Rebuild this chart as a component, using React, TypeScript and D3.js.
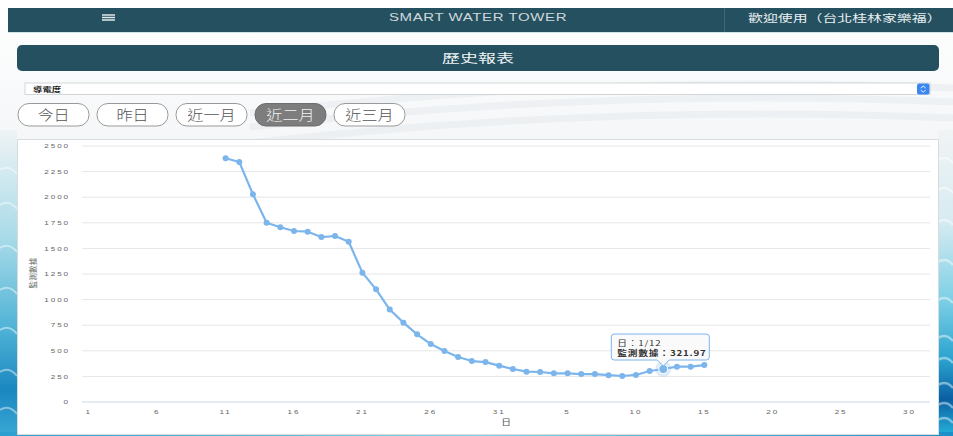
import React from 'react';
import * as d3 from 'd3';

// 類別：12/1 ~ 1/31
const decDays = ['12/1', '12/2', '12/3', '12/4', '12/5', '12/6', '12/7', '12/8', '12/9', '12/10',
    '12/11', '12/12', '12/13', '12/14', '12/15', '12/16', '12/17', '12/18', '12/19', '12/20',
    '12/21', '12/22', '12/23', '12/24', '12/25', '12/26', '12/27', '12/28', '12/29', '12/30', '12/31'];
const janDays = ['1/1', '1/2', '1/3', '1/4', '1/5', '1/6', '1/7', '1/8', '1/9', '1/10',
    '1/11', '1/12', '1/13', '1/14', '1/15', '1/16', '1/17', '1/18', '1/19', '1/20',
    '1/21', '1/22', '1/23', '1/24', '1/25', '1/26', '1/27', '1/28', '1/29', '1/30', '1/31'];
const categories = [...decDays, ...janDays];

// 監測數據 (導電度)
const decValues: (number | null)[] = [null, null, null, null, null, null, null, null, null, null,
    2380, 2344, 2028, 1751, 1706, 1670, 1663, 1611, 1621, 1565,
    1263, 1100, 903, 775, 661, 566, 498, 439, 400, 390, 355];
const janValues: (number | null)[] = [322, 296, 293, 280, 280, 273, 273, 262, 254, 264,
    303, 321.97, 345, 345, 361, null, null, null, null, null,
    null, null, null, null, null, null, null, null, null, null, null];
const values = [...decValues, ...janValues];

const yTicks = [0, 250, 500, 750, 1000, 1250, 1500, 1750, 2000, 2250, 2500];
const buttons = ['今日', '昨日', '近一月', '近二月', '近三月'];
const activeButton = '近二月';
const hoverCategory = '1/12';

const W = 953;
const H = 436;
const lineColor = '#7cb5ec';
const cjk = '"Noto Sans CJK TC", "Noto Sans", sans-serif';
const latin = '"Liberation Sans", Arial, sans-serif';

const ST: React.FC<any> = ({x, y, sx = 1, anchor = 'start', children, ...rest}) => (
    <text transform={`translate(${x},${y}) scale(${sx},1)`} textAnchor={anchor} {...rest}>{children}</text>
);

const App: React.FC = () => {
    const x = d3.scaleBand<string>().domain(categories).range([82, 930]).padding(0);
    const y = d3.scaleLinear().domain([0, 2500]).range([402, 146]);
    const cx = (c: string) => (x(c) || 0) + x.bandwidth() / 2;

    const pts = categories.map((c, i) => ({c, v: values[i]})).filter(d => d.v !== null) as { c: string, v: number }[];
    const line = d3.line<{ c: string, v: number }>().x(d => cx(d.c)).y(d => y(d.v));

    const hv = pts.find(d => d.c === hoverCategory)!;
    const hx = cx(hv.c);
    const hy = y(hv.v);
    const tipW = 98, tipH = 26;
    const tipX = hx - 52, tipY = hy - 35;

    return (
        <svg width={W} height={H} style={{position: 'absolute', left: 0, top: 0}}>
            <defs>
                <linearGradient id="bg" x1="0" y1="0" x2="0" y2="1">
                    <stop offset="0" stopColor="#ffffff"/>
                    <stop offset="0.3" stopColor="#f5f7f8"/>
                    <stop offset="1" stopColor="#e9eef0"/>
                </linearGradient>
                <linearGradient id="leftWater" x1="0" y1="0" x2="0" y2="1">
                    <stop offset="0" stopColor="#eef3f5"/>
                    <stop offset="0.35" stopColor="#a9dbe9"/>
                    <stop offset="0.65" stopColor="#4fb3d6"/>
                    <stop offset="0.85" stopColor="#1b87c0"/>
                    <stop offset="1" stopColor="#3aa9d6"/>
                </linearGradient>
                <linearGradient id="rightWater" x1="0" y1="0" x2="0" y2="1">
                    <stop offset="0" stopColor="#f1f4f5"/>
                    <stop offset="0.3" stopColor="#d6ebf1"/>
                    <stop offset="0.55" stopColor="#7fd0e6"/>
                    <stop offset="0.75" stopColor="#2aa3cf"/>
                    <stop offset="0.88" stopColor="#0a5fa3"/>
                    <stop offset="1" stopColor="#27b3db"/>
                </linearGradient>
                <linearGradient id="bottomWater" x1="0" y1="0" x2="1" y2="0">
                    <stop offset="0" stopColor="#2a9fd0"/>
                    <stop offset="0.5" stopColor="#7fd3ea"/>
                    <stop offset="1" stopColor="#1b8fc8"/>
                </linearGradient>
            </defs>

            {/* 背景 */}
            <rect x={0} y={0} width={W} height={H} fill="url(#bg)"/>
            <rect x={0} y={130} width={17} height={306} fill="url(#leftWater)"/>
            <rect x={938} y={130} width={15} height={306} fill="url(#rightWater)"/>
            <rect x={0} y={432} width={W} height={4} fill="url(#bottomWater)"/>
            {[170, 205, 248, 290, 330, 372, 410].map((yy, i) => (
                <path key={'l' + i} d={`M0,${yy} Q9,${yy - 6} 17,${yy + 4}`} stroke="#ffffff" strokeOpacity={0.45}
                      strokeWidth={2} fill="none"/>
            ))}
            {[160, 190, 222, 262, 300, 338, 360, 385, 405, 420].map((yy, i) => (
                <path key={'r' + i} d={`M938,${yy} Q946,${yy - 5} 953,${yy + 3}`} stroke="#ffffff"
                      strokeOpacity={0.45} strokeWidth={2.5} fill="none"/>
            ))}
            {[88, 102, 118].map((yy, i) => (
                <path key={'t' + i} d={`M250,${yy + 25} Q600,${yy - 15} 953,${yy}`} stroke="#e3e7ea"
                      strokeOpacity={0.45} strokeWidth={7} fill="none"/>
            ))}

            {/* 頁首 */}
            <rect x={8} y={8} width={945} height={24} fill="#24505f"/>
            <line x1={8} x2={953} y1={32.5} y2={32.5} stroke="#cfe1e8"/>
            {[15, 17.5, 20].map(yy => (
                <line key={yy} x1={102} x2={115} y1={yy} y2={yy} stroke="#dfe7ea" strokeWidth={1.5}/>
            ))}
            <ST x={478} y={21} sx={1.5} anchor="middle" fill="#d0d8dc" fontFamily={latin} fontSize={10}
                letterSpacing={0.4}>SMART WATER TOWER</ST>
            <line x1={724.5} x2={724.5} y1={8} y2={32} stroke="#3d6878"/>
            <ST x={748} y={22} sx={1.42} fill="#e8eef0" fontFamily={cjk} fontSize={10.5}>歡迎使用（台北桂林家樂福）</ST>

            {/* 標題列 */}
            <rect x={17} y={45} width={922} height={26} rx={5} fill="#24505f"/>
            <ST x={478} y={63} sx={1.5} anchor="middle" fill="#eef3f5" fontFamily={cjk}
                fontSize={12}>歷史報表</ST>

            {/* 下拉選單 */}
            <rect x={25} y={83} width={905} height={11.5} fill="#ffffff" stroke="#c9cdd0" strokeWidth={0.8}/>
            <ST x={33} y={92} sx={1.45} fill="#222" fontFamily={cjk} fontSize={6.5}
                fontWeight="bold">導電度</ST>
            <rect x={917} y={83.5} width={12.5} height={11} rx={2} fill="#3b86f0"/>
            <path d="M920.8,88 L923.2,86 L925.6,88 M920.8,90.2 L923.2,92.2 L925.6,90.2" stroke="#fff"
                  strokeWidth={0.9} fill="none"/>

            {/* 時間按鈕 */}
            {buttons.map((b, i) => {
                const bx = 18 + i * 79;
                const active = b === activeButton;
                return (
                    <g key={b}>
                        <rect x={bx} y={103.5} width={71} height={22.5} rx={11}
                              fill={active ? '#7d7d7d' : '#ffffff'} stroke={active ? '#6d6d6d' : '#9a9a9a'}
                              strokeWidth={1}/>
                        <ST x={bx + 35.5} y={120} sx={1.15} anchor="middle" fill={active ? '#f2f2f2' : '#555'}
                            fontFamily={cjk} fontSize={14} fontWeight={300}>{b}</ST>
                    </g>
                );
            })}

            {/* 圖表面板 */}
            <rect x={17.5} y={139.5} width={921} height={295} fill="#ffffff" stroke="#d8dcde"/>

            {/* 格線與 Y 軸 */}
            {yTicks.map(t => (
                <g key={t}>
                    {t > 0 && <line x1={82} x2={930} y1={y(t)} y2={y(t)} stroke="#e6e6e6" strokeWidth={1}/>}
                    <ST x={70} y={y(t) + 2.2} sx={1.3} anchor="end" fill="#666" fontFamily={latin}
                        fontSize={6.2} letterSpacing={1.5}>{t}</ST>
                </g>
            ))}
            <line x1={82} x2={930} y1={y(0)} y2={y(0)} stroke="#ccd6eb" strokeWidth={1}/>
            <text transform={`translate(36,273) rotate(-90)`} textAnchor="middle" fill="#666" fontFamily={cjk}
                  fontSize={7.5} letterSpacing={0.3}>監測數據</text>

            {/* X 軸 */}
            {categories.filter((_, i) => i % 5 === 0).map(c => (
                <ST key={c} x={cx(c)} y={413.5} sx={1.3} anchor="middle" fill="#666" fontFamily={latin}
                    fontSize={6.2} letterSpacing={1.5}>{c.split('/')[1]}</ST>
            ))}
            <ST x={506} y={425} sx={1.3} anchor="middle" fill="#555" fontFamily={cjk} fontSize={7.5}>日</ST>

            {/* 折線 */}
            <path d={line(pts) || ''} fill="none" stroke={lineColor} strokeWidth={2.2} strokeLinejoin="round"/>
            {pts.map(d => (
                <circle key={d.c} cx={cx(d.c)} cy={y(d.v)} r={3} fill={lineColor}/>
            ))}
            <circle cx={hx} cy={hy} r={8} fill={lineColor} fillOpacity={0.25}/>
            <circle cx={hx} cy={hy} r={4.5} fill={lineColor} stroke="#ffffff" strokeWidth={1}/>

            {/* 提示框 */}
            <path
                d={`M${tipX + 3},${tipY} H${tipX + tipW - 3} Q${tipX + tipW},${tipY} ${tipX + tipW},${tipY + 3}
                    V${tipY + tipH - 3} Q${tipX + tipW},${tipY + tipH} ${tipX + tipW - 3},${tipY + tipH}
                    H${hx + 6} L${hx},${tipY + tipH + 6} L${hx - 6},${tipY + tipH}
                    H${tipX + 3} Q${tipX},${tipY + tipH} ${tipX},${tipY + tipH - 3}
                    V${tipY + 3} Q${tipX},${tipY} ${tipX + 3},${tipY} Z`}
                fill="rgba(249,249,249,0.9)" stroke={lineColor} strokeWidth={1}/>
            <ST x={tipX + 6} y={tipY + 12} sx={1.3} fill="#333" fontFamily={cjk} fontSize={7.5}
                letterSpacing={0.6}>{`日：${hv.c}`}</ST>
            <ST x={tipX + 6} y={tipY + 21.5} sx={1.3} fill="#333" fontFamily={cjk} fontSize={7.5}
                fontWeight="bold" letterSpacing={0.6}>{`監測數據：${hv.v.toFixed(2)}`}</ST>
        </svg>
    );
};

export default App;
